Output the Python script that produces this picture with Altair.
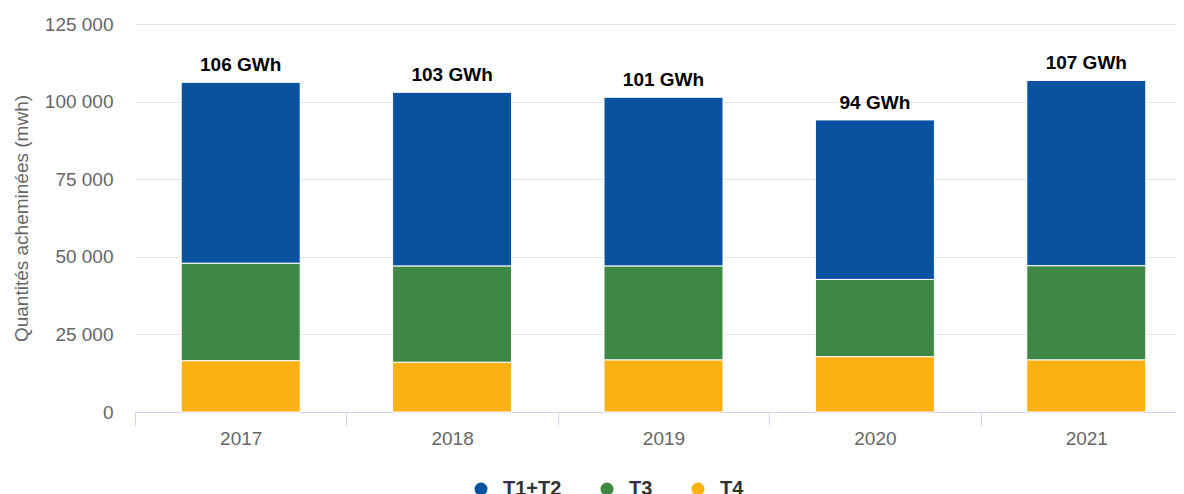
import altair as alt
import pandas as pd

years = ["2017", "2018", "2019", "2020", "2021"]
series = ["T1+T2", "T3", "T4"]
t12 = [58300, 56000, 54400, 51400, 59700]
t3 = [31400, 31000, 30250, 24900, 30350]
t4 = [16500, 16000, 16750, 17800, 16750]
colors = ["#0852A0", "#3E8744", "#FAB111"]

rows = []
for i, y in enumerate(years):
    rows.append({"year": y, "serie": "T1+T2", "value": t12[i], "ord": 2})
    rows.append({"year": y, "serie": "T3", "value": t3[i], "ord": 1})
    rows.append({"year": y, "serie": "T4", "value": t4[i], "ord": 0})
df = pd.DataFrame(rows)

totals = [a + b + c for a, b, c in zip(t12, t3, t4)]
tdf = pd.DataFrame({
    "year": years,
    "total": totals,
    "label": [f"{round(t / 1000)} GWh" for t in totals],
})

W = 1041
STEP = 211.4
years_js = "[" + ",".join(f"'{y}'" for y in years) + "]"
pos_expr = f"indexof({years_js}, datum.year) + 0.5"

xscale = alt.Scale(domain=[0, W / STEP], nice=False, zero=False, padding=0)
xaxis = alt.Axis(
    title=None, labelAngle=0, domainColor="#ccd6eb", tickColor="#ccd6eb",
    values=[i * 0.5 for i in range(2 * len(years))],
    labelExpr=f"datum.value % 1 === 0 ? '' : {years_js}[floor(datum.value)]",
    tickOpacity=alt.condition("datum.value % 1 === 0", alt.value(1), alt.value(0)),
    tickSize=14, labelPadding=3, labelFontSize=19, labelColor="#666666",
    grid=False, labelOverlap=False, labelFlush=False,
)

yscale = alt.Scale(domain=[0, 125000], nice=False)

bars = alt.Chart(df).transform_calculate(pos=pos_expr).mark_bar(
    size=119, stroke="white", strokeWidth=1
).encode(
    x=alt.X("pos:Q", scale=xscale, axis=xaxis),
    y=alt.Y(
        "value:Q",
        stack="zero",
        scale=yscale,
        axis=alt.Axis(
            title="Quantités acheminées (mwh)",
            values=[0, 25000, 50000, 75000, 100000, 125000],
            labelExpr="replace(format(datum.value, ',d'), ',', ' ')",
            gridColor="#e6e6e6", domain=False, ticks=False, labelPadding=22,
            labelFontSize=19, labelColor="#666666", titleFontSize=19,
            titleColor="#666666", titleFontWeight="normal",
            titleX=-114, titleY=194, titleBaseline="middle",
        ),
    ),
    color=alt.Color(
        "serie:N",
        scale=alt.Scale(domain=series, range=colors),
        legend=alt.Legend(
            title=None, orient="none", legendX=336, legendY=455,
            direction="horizontal", symbolType="circle", symbolSize=170,
            labelFontSize=20, labelFontWeight="bold", labelColor="#333333",
            columnPadding=35, labelOffset=12, symbolStrokeWidth=0,
        ),
    ),
    order=alt.Order("ord:Q", sort="ascending"),
)

text = alt.Chart(tdf).transform_calculate(pos=pos_expr).mark_text(
    dy=-11, baseline="alphabetic", fontSize=19, fontWeight="bold", color="#000000"
).encode(
    x=alt.X("pos:Q", scale=xscale),
    y=alt.Y("total:Q", scale=yscale),
    text="label:N",
)

chart = alt.layer(bars, text).properties(
    width=W,
    height=388,
    autosize=alt.AutoSizeParams(type="none"),
    padding={"left": 127, "top": 16, "right": 0, "bottom": 82},
).configure(font="Liberation Sans").configure_view(stroke=None)

chart.save("out.html", embed_options={"renderer": "svg", "actions": False})
